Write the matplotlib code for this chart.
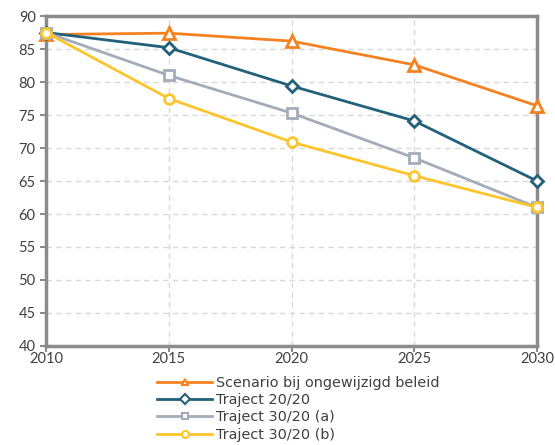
import matplotlib
matplotlib.use("Agg")
import matplotlib.pyplot as plt

years = [2010, 2015, 2020, 2025, 2030]
scenario = [87.2, 87.4, 86.2, 82.6, 76.4]
traject_2020 = [87.5, 85.2, 79.4, 74.1, 65.0]
traject_3020a = [87.5, 81.0, 75.3, 68.5, 61.0]
traject_3020b = [87.5, 77.5, 70.9, 65.8, 61.0]

labels = ["Scenario bij ongewijzigd beleid", "Traject 20/20",
          "Traject 30/20 (a)", "Traject 30/20 (b)"]
colors = ["#F58220", "#23607A", "#A3ACB9", "#FDC52D"]
markers = ["^", "D", "s", "o"]
sizes = [8, 6, 7, 7]

fig = plt.figure(figsize=(5.55, 4.45), dpi=100)
ax = fig.add_axes([0.083, 0.2225, 0.8847, 0.7415])

series = [scenario, traject_2020, traject_3020a, traject_3020b]
for vals, lab, c, m, s in zip(series, labels, colors, markers, sizes):
    ax.plot(years, vals, color=c, lw=2, marker=m, ms=s, mfc="white",
            mec=c, mew=2, label=lab, clip_on=False, zorder=3)

ax.set_xlim(2010, 2030)
ax.set_ylim(40, 90)
ax.set_xticks(years)
ax.set_yticks(range(40, 91, 5))
ax.grid(color="#d9d9d9", linestyle=(0, (4, 3)), lw=1)
for sp in ax.spines.values():
    sp.set_color("#8c8c8c")
    sp.set_linewidth(2.5)
ax.tick_params(colors="#8c8c8c", width=1.5, length=4, labelcolor="#404040",
               labelsize=10.5)
ax.tick_params(axis="x", pad=0)
for t in ax.get_xticklabels() + ax.get_yticklabels():
    t.set_fontfamily("Lato")

# legend sits centred under the plot, four rows
leg = fig.legend(loc="upper left", bbox_to_anchor=(0.27, 0.171), frameon=False,
                 handlelength=3.8, handletextpad=0.3, labelspacing=0.22,
                 borderpad=0, prop={"family": "DejaVu Sans", "size": 10.4})
for t in leg.get_texts():
    t.set_color("#404040")
for h in leg.legend_handles:
    h.set_markersize(5)
    h.set_markeredgewidth(1.5)

fig.savefig("out.png", dpi=100)
